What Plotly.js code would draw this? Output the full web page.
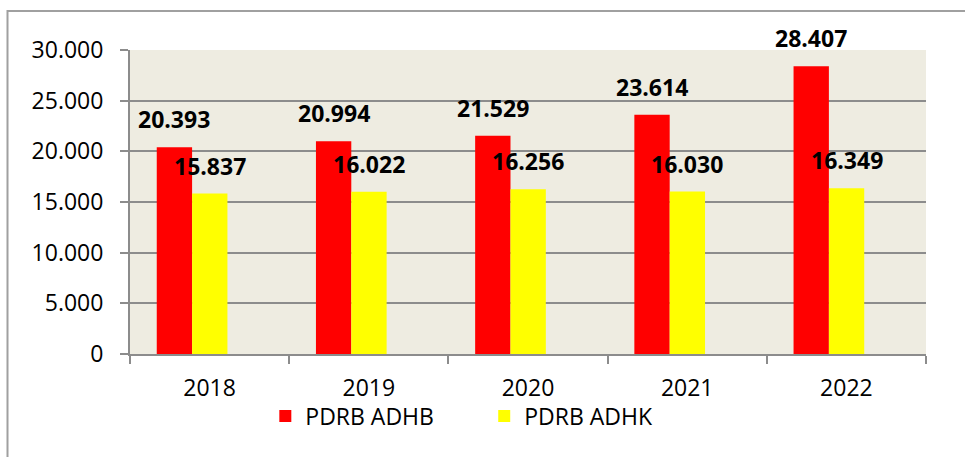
<!DOCTYPE html>
<html>
<head>
<meta charset="utf-8">
<script src="https://cdn.plot.ly/plotly-3.0.1.min.js"></script>
<style>
  html, body { margin: 0; padding: 0; background: #ffffff; }
  #chart { width: 965px; height: 457px; }
</style>
</head>
<body>
<div id="chart"></div>
<script>
// ---- data ----
var years = ['2018', '2019', '2020', '2021', '2022'];
var adhb = [20393, 20994, 21529, 23614, 28407];
var adhk = [15837, 16022, 16256, 16030, 16349];
var seriesNames = ['PDRB ADHB', 'PDRB ADHK'];
var yTicks = [0, 5000, 10000, 15000, 20000, 25000, 30000];

// ---- helpers ----
function fmt(v) {
  return String(v).replace(/\B(?=(\d{3})+(?!\d))/g, '.');
}

var FONT = 'Open Sans, Lato, sans-serif';
var barW = 0.222;
var redOffset = -0.332;
var yelOffset = -0.110;

var traces = [
  {
    type: 'bar', name: seriesNames[0], x: years, y: adhb,
    width: barW, offset: redOffset,
    marker: { color: '#FF0000', line: { width: 0 } },
    legend: 'legend', hoverinfo: 'x+y'
  },
  {
    type: 'bar', name: seriesNames[1], x: years, y: adhk,
    width: barW, offset: yelOffset,
    marker: { color: '#FFFF00', line: { width: 0 } },
    legend: 'legend2', hoverinfo: 'x+y'
  }
];

var annotations = [];
years.forEach(function (yr, i) {
  annotations.push({
    x: i + redOffset + barW / 2, y: adhb[i], xref: 'x', yref: 'y',
    text: fmt(adhb[i]), showarrow: false,
    xanchor: 'center', yanchor: 'bottom', yshift: 10,
    font: { family: FONT, size: 23, color: '#000000', weight: 'bold' }
  });
  annotations.push({
    x: i + yelOffset + barW / 2, y: adhk[i], xref: 'x', yref: 'y',
    text: fmt(adhk[i]), showarrow: false,
    xanchor: 'center', yanchor: 'bottom', yshift: 10,
    font: { family: FONT, size: 23, color: '#000000', weight: 'bold' }
  });
});

var layout = {
  width: 965, height: 457,
  margin: { l: 130, r: 39, t: 50, b: 103 },
  paper_bgcolor: '#FFFFFF',
  plot_bgcolor: '#EEECE1',
  separators: ',.',
  barmode: 'overlay',
  showlegend: true,
  font: { family: FONT, size: 23, color: '#000000' },
  xaxis: {
    type: 'category',
    categoryorder: 'array', categoryarray: years,
    range: [-0.5, years.length - 0.5],
    autorange: false,
    showgrid: false,
    showline: true, linecolor: '#8C8C8C', linewidth: 2,
    ticks: 'outside', tickson: 'boundaries', ticklen: 8, tickwidth: 2, tickcolor: '#8C8C8C',
    ticklabelstandoff: 12,
    tickangle: 0,
    tickfont: { family: FONT, size: 23, color: '#000000' },
    fixedrange: true
  },
  yaxis: {
    range: [0, 30000],
    autorange: false,
    tickvals: yTicks,
    ticktext: yTicks.map(fmt),
    showgrid: true, gridcolor: '#8C8C8C', gridwidth: 2,
    zeroline: false,
    showline: true, linecolor: '#8C8C8C', linewidth: 2,
    ticks: 'outside', ticklen: 8, tickwidth: 2, tickcolor: '#8C8C8C',
    ticklabelstandoff: 12,
    tickfont: { family: FONT, size: 23, color: '#000000' },
    fixedrange: true
  },
  legend: {
    orientation: 'h', x: 0.170, xanchor: 'left', y: -0.204, yanchor: 'middle',
    font: { family: FONT, size: 23, color: '#000000' },
    bgcolor: 'rgba(0,0,0,0)'
  },
  legend2: {
    orientation: 'h', x: 0.445, xanchor: 'left', y: -0.204, yanchor: 'middle',
    font: { family: FONT, size: 23, color: '#000000' },
    bgcolor: 'rgba(0,0,0,0)'
  },
  annotations: annotations,
  shapes: [
    {
      type: 'rect', xref: 'paper', yref: 'paper',
      x0: (7.5 - 130) / 796, x1: (980 - 130) / 796,
      y0: (354 - 470) / 304, y1: (354 - 11) / 304,
      line: { color: '#A0A0A0', width: 2 }, fillcolor: 'rgba(0,0,0,0)',
      layer: 'below'
    }
  ]
};

Plotly.newPlot('chart', traces, layout, { displayModeBar: false, staticPlot: true });
</script>
</body>
</html>
